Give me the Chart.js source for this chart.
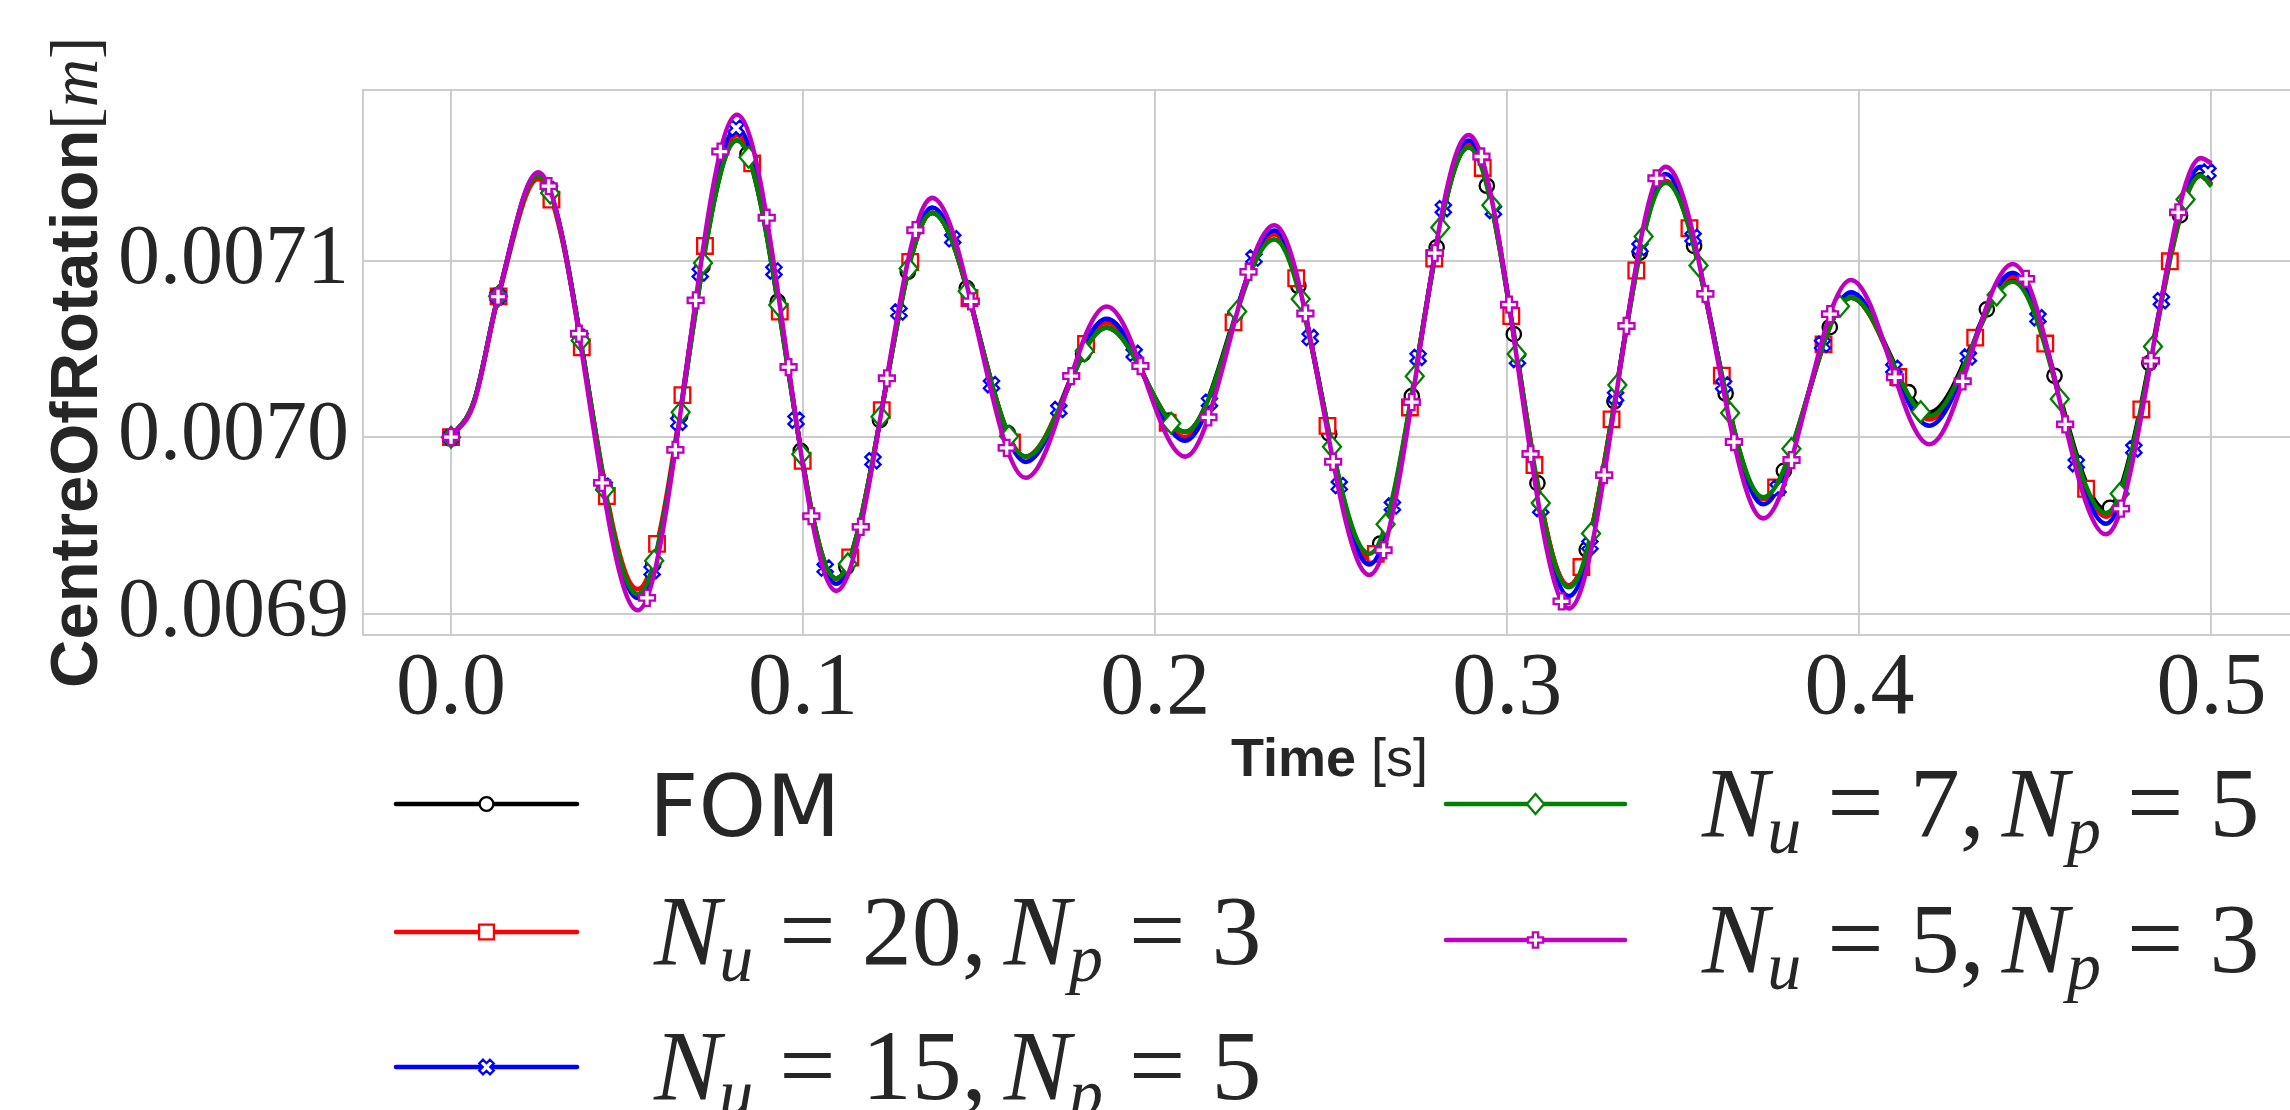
<!DOCTYPE html>
<html>
<head>
<meta charset="utf-8">
<script src="https://cdn.jsdelivr.net/npm/chart.js@4/dist/chart.umd.min.js"></script>
<style>
html,body{margin:0;padding:0;background:#fff;overflow:hidden;}
#wrap{position:relative;width:2290px;height:1110px;overflow:hidden;background:#fff;}
#c{position:absolute;left:0;top:0;}
.txt{position:absolute;white-space:nowrap;color:#262626;line-height:1;}
.sansb{font-family:"Liberation Sans",Arial,sans-serif;font-weight:bold;}
.sans{font-family:"Liberation Sans",Arial,sans-serif;font-weight:normal;}
.serif{font-family:"Liberation Serif","Times New Roman",serif;}
.fom{font-family:"DejaVu Sans",sans-serif;font-size:86px;}
.math{font-family:"Liberation Serif","Times New Roman",serif;font-size:100px;}
.math i{font-style:italic;}
.math sub{font-size:0.68em;font-style:italic;vertical-align:-0.24em;line-height:0;margin-left:-0.02em;}
.math .op{margin:0 0.26em;}
.math .th{display:inline-block;width:0.17em;}
.handle{position:absolute;}
#ytitle{transform-origin:0 0;transform:rotate(-90deg);}
</style>
</head>
<body>
<div id="wrap">
  <canvas id="c" width="2320" height="1110"></canvas>
  <div id="ytitle" class="txt" style="left:40px;top:688px;font-size:67px;"><span class="sansb">CentreOfRotation</span><span class="serif">[<i>m</i>]</span></div>
  <div id="xtitle" class="txt" style="left:1231px;top:730px;font-size:54px;"><span class="sansb">Time</span><span class="sans"> [s]</span></div>
  <div id="legend"></div>
</div>
<script>
// ---------------- data ----------------
const seriesLabels = ['FOM', 'N_u = 20, N_p = 3', 'N_u = 15, N_p = 5', 'N_u = 7, N_p = 5', 'N_u = 5, N_p = 3'];
const times = [0, 0.0065, 0.0134, 0.0247, 0.0530, 0.0812, 0.1094, 0.1367, 0.1632, 0.1862, 0.2085, 0.2338, 0.2608, 0.2890, 0.3175, 0.3450, 0.3727, 0.3976, 0.4199, 0.4436, 0.4700, 0.4970, 0.5000];
const fomValues  = [0.0070, 0.007020, 0.007080, 0.007149, 0.006911, 0.007168, 0.006920, 0.007127, 0.006989, 0.007062, 0.007003, 0.007115, 0.006932, 0.007164, 0.006916, 0.007145, 0.006965, 0.007079, 0.007014, 0.007090, 0.006959, 0.007149, 0.007143];
const nu20Values = [0.0070, 0.007020, 0.007079, 0.007146, 0.006914, 0.007171, 0.006920, 0.007127, 0.006989, 0.007065, 0.007000, 0.007115, 0.006931, 0.007166, 0.006916, 0.007145, 0.006965, 0.007079, 0.007010, 0.007091, 0.006955, 0.007148, 0.007143];
const nu15Values = [0.0070, 0.007020, 0.007080, 0.007149, 0.006909, 0.007175, 0.006917, 0.007130, 0.006986, 0.007067, 0.006998, 0.007117, 0.006928, 0.007168, 0.006910, 0.007149, 0.006962, 0.007082, 0.0070065, 0.007093, 0.006951, 0.007153, 0.007148];
const nu7Values  = [0.0070, 0.007020, 0.007080, 0.007148, 0.006911, 0.007168, 0.006920, 0.007127, 0.006989, 0.007062, 0.007003, 0.007112, 0.006934, 0.007164, 0.006915, 0.007144, 0.006966, 0.007079, 0.007012, 0.007088, 0.006957, 0.007148, 0.007142];
const nu5Values  = [0.0070, 0.007019, 0.007080, 0.007150, 0.006902, 0.0071825, 0.006913, 0.0071355, 0.006977, 0.007074, 0.006989, 0.007120, 0.006922, 0.007171, 0.006903, 0.007153, 0.006954, 0.007089, 0.006996, 0.007098, 0.006945, 0.007158, 0.007155];
const seriesValues = [fomValues, nu20Values, nu15Values, nu7Values, nu5Values];
const xTicks = [0.0, 0.1, 0.2, 0.3, 0.4, 0.5];
const yTicks = [0.0069, 0.0070, 0.0071];

// ---------------- style ----------------
const colors = ['#000000', '#ff0000', '#0000ff', '#008000', '#bf00bf'];
const markerShapes = ['circle', 'square', 'xfilled', 'diamond', 'plusfilled'];
const markEvery = 0.075;   // fraction of axes diagonal between markers
const xTickFont = {family: '"Liberation Serif", "Times New Roman", serif', size: 88};
const yTickFont = {family: '"Liberation Serif", "Times New Roman", serif', size: 84};
const gridColor = '#cccccc';
const lineW = 4.6;

function drawMarker(ctx, shape, x, y, color, k) {
  k = k || 1;
  ctx.beginPath();
  if (shape === 'circle') {
    ctx.arc(x, y, 7.2 * k, 0, Math.PI * 2);
  } else if (shape === 'square') {
    ctx.rect(x - 7.8 * k, y - 7.8 * k, 15.6 * k, 15.6 * k);
  } else if (shape === 'diamond') {
    ctx.moveTo(x, y - 10.5 * k); ctx.lineTo(x + 9 * k, y); ctx.lineTo(x, y + 10.5 * k); ctx.lineTo(x - 9 * k, y); ctx.closePath();
  } else {
    const L = 8 * k, w = 2.8 * k;
    const base = [[-w,-L],[w,-L],[w,-w],[L,-w],[L,w],[w,w],[w,L],[-w,L],[-w,w],[-L,w],[-L,-w],[-w,-w]];
    const ang = shape === 'xfilled' ? Math.PI / 4 : 0;
    const c = Math.cos(ang), s = Math.sin(ang);
    base.forEach((p, i) => {
      const px = x + p[0] * c - p[1] * s, py = y + p[0] * s + p[1] * c;
      if (i === 0) ctx.moveTo(px, py); else ctx.lineTo(px, py);
    });
    ctx.closePath();
  }
  ctx.fillStyle = '#ffffff';
  ctx.fill();
  ctx.lineWidth = 2.3;
  ctx.lineJoin = 'miter';
  ctx.strokeStyle = color;
  ctx.stroke();
}

// markers spaced at equal visual distance along each rendered line (like markevery=float)
const markerPlugin = {
  id: 'markevery',
  afterDatasetDraw(chart, args) {
    const ds = chart.data.datasets[args.index];
    const pts = args.meta.data;
    if (!pts || pts.length < 2) return;
    const a = chart.chartArea;
    const step = markEvery * Math.hypot(a.right - a.left, a.bottom - a.top);
    const poly = [[pts[0].x, pts[0].y]];
    for (let k = 0; k < pts.length - 1; k++) {
      const p0 = pts[k], p1 = pts[k + 1];
      const c1x = p0.cp2x !== undefined ? p0.cp2x : p0.x, c1y = p0.cp2y !== undefined ? p0.cp2y : p0.y;
      const c2x = p1.cp1x !== undefined ? p1.cp1x : p1.x, c2y = p1.cp1y !== undefined ? p1.cp1y : p1.y;
      const N = 120;
      for (let j = 1; j <= N; j++) {
        const s = j / N, u = 1 - s;
        poly.push([
          u*u*u*p0.x + 3*u*u*s*c1x + 3*u*s*s*c2x + s*s*s*p1.x,
          u*u*u*p0.y + 3*u*u*s*c1y + 3*u*s*s*c2y + s*s*s*p1.y
        ]);
      }
    }
    const marks = [poly[0]];
    let acc = 0, next = step;
    for (let j = 1; j < poly.length; j++) {
      const dx = poly[j][0] - poly[j-1][0], dy = poly[j][1] - poly[j-1][1];
      const seg = Math.hypot(dx, dy);
      while (seg > 0 && acc + seg >= next) {
        const f = (next - acc) / seg;
        marks.push([poly[j-1][0] + f * dx, poly[j-1][1] + f * dy]);
        next += step;
      }
      acc += seg;
    }
    const ctx = chart.ctx;
    ctx.save();
    marks.forEach(m => drawMarker(ctx, ds.markerShape, m[0], m[1], ds.borderColor, 1));
    ctx.restore();
  }
};

const framePlugin = {
  id: 'frame',
  beforeDatasetsDraw(chart) {
    const a = chart.chartArea, ctx = chart.ctx;
    ctx.save();
    ctx.strokeStyle = gridColor;
    ctx.lineWidth = 2;
    ctx.strokeRect(a.left, a.top, a.right - a.left, a.bottom - a.top);
    ctx.restore();
  }
};

const chart = new Chart(document.getElementById('c').getContext('2d'), {
  type: 'line',
  data: {
    datasets: seriesValues.map((vals, i) => ({
      label: seriesLabels[i],
      data: times.map((t, k) => ({x: t, y: vals[k]})),
      borderColor: colors[i],
      backgroundColor: colors[i],
      borderWidth: lineW,
      pointRadius: 0,
      pointHoverRadius: 0,
      cubicInterpolationMode: 'monotone',
      fill: false,
      order: 4 - i,
      markerShape: markerShapes[i]
    }))
  },
  options: {
    responsive: false,
    animation: false,
    devicePixelRatio: 1,
    events: [],
    layout: {padding: {top: 90, right: 20.5, left: 0, bottom: 0}},
    plugins: {legend: {display: false}, tooltip: {enabled: false}, title: {display: false}},
    scales: {
      x: {
        type: 'linear', min: -0.025, max: 0.525,
        afterBuildTicks: s => { s.ticks = xTicks.map(v => ({value: v})); },
        afterFit: s => { s.height = 475; },
        ticks: {font: xTickFont, color: '#262626', padding: 2, maxRotation: 0, autoSkip: false, callback: v => Number(v).toFixed(1)},
        grid: {color: gridColor, lineWidth: 2, drawTicks: false},
        border: {display: false}
      },
      y: {
        type: 'linear', min: 0.006888, max: 0.00719655,
        afterBuildTicks: s => { s.ticks = yTicks.map(v => ({value: v})); },
        afterFit: s => { s.width = 363; },
        ticks: {font: yTickFont, color: '#262626', padding: 14, autoSkip: false, callback: v => Number(v).toFixed(4)},
        grid: {color: gridColor, lineWidth: 2, drawTicks: false},
        border: {display: false}
      }
    }
  },
  plugins: [framePlugin, markerPlugin]
});

// ---------------- HTML legend (two columns) ----------------
const legendCols = [{x0: 393, x1: 580, tx: 650}, {x0: 1443, x1: 1628, tx: 1698}];
const legendRows = [[804, 932, 1067], [804, 940]];
function labelHTML(s) {
  return s.replace(/N_([a-z])/g, '<i>N</i><sub>$1</sub>')
          .replace(/ = /g, '<span class="op">=</span>')
          .replace(/, /g, ',<span class="th"></span>');
}
const legend = document.getElementById('legend');
seriesLabels.forEach((lab, i) => {
  const col = i < 3 ? 0 : 1, row = i < 3 ? i : i - 3;
  const c = legendCols[col], y = legendRows[col][row];
  const cv = document.createElement('canvas');
  const w = c.x1 - c.x0;
  cv.width = w; cv.height = 40;
  cv.className = 'handle';
  cv.style.left = c.x0 + 'px'; cv.style.top = (y - 20) + 'px';
  const g = cv.getContext('2d');
  g.strokeStyle = colors[i]; g.lineWidth = lineW; g.lineCap = 'round';
  g.beginPath(); g.moveTo(3, 20); g.lineTo(w - 3, 20); g.stroke();
  drawMarker(g, markerShapes[i], w / 2, 20, colors[i], 0.95);
  legend.appendChild(cv);
  const d = document.createElement('div');
  if (lab.indexOf('N_') < 0) {
    d.className = 'txt fom';
    d.textContent = lab;
    d.style.left = (c.tx - 1) + 'px';
    d.style.top = (y - 0.4815 * 86) + 'px';
  } else {
    d.className = 'txt math';
    d.innerHTML = labelHTML(lab);
    d.style.left = (c.tx + 4) + 'px';
    d.style.top = (y - 0.5065 * 100) + 'px';
  }
  legend.appendChild(d);
});
</script>
</body>
</html>
